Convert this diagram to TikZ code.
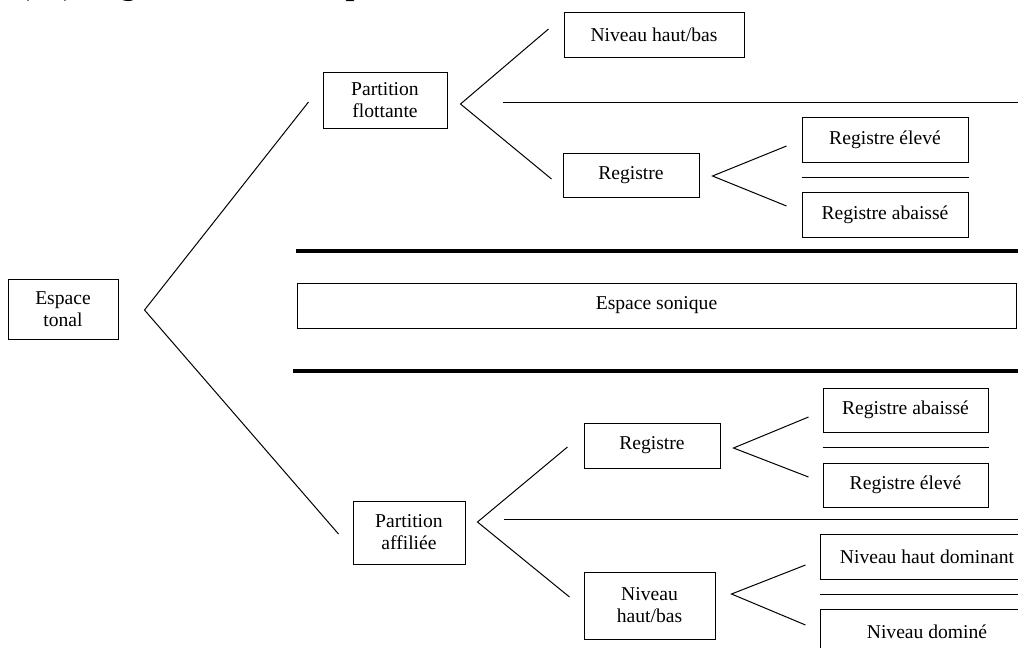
\documentclass[tikz,border=0pt]{standalone}
\usepackage{fontspec}
\setmainfont{Liberation Serif}
\usetikzlibrary{calc}

\begin{document}
\begin{tikzpicture}[
    x=0.75pt, y=-0.75pt,
    font=\fontsize{14.7pt}{16.5pt}\selectfont,
    cell/.style 2 args={rectangle, draw, line width=0.75pt, align=center,
              inner sep=2pt, minimum width=#1*0.75pt, minimum height=#2*0.75pt},
    link/.style={draw, line width=0.75pt},
    thinrule/.style={draw, line width=0.75pt},
    thickrule/.style={draw, line width=3pt},
]
    \useasboundingbox (0,0) rectangle (1018,647);

    % caption, cut off by the page top
    \node[anchor=base west, inner sep=0pt,
          font=\itshape\fontsize{28.5pt}{30pt}\selectfont] (caption) at (20,-7)
        {(…) Figure 2 : Les espaces};

    % root
    \node[cell={110}{60}] (tonal) at (63,309) {Espace\\tonal};

    % upper branch: floating partition
    \node[cell={124}{56}] (flot) at (385,100) {Partition\\flottante};
    \node[cell={180}{45}] (hb1) at (654,34.5) {Niveau haut/bas};
    \node[cell={136}{44}] (reg1) at (631,175) {Registre};
    \node[cell={166}{45}] (elev1) at (885,139.5) {Registre élevé};
    \node[cell={166}{45}] (abai1) at (885,214.5) {Registre abaissé};

    % middle band
    \node[cell={719}{45}] (sonique) at (656.5,305.5) {Espace sonique};

    % lower branch: affiliated partition
    \node[cell={112}{63}] (aff) at (409,532.5) {Partition\\affiliée};
    \node[cell={136}{45}] (reg2) at (652,445.5) {Registre};
    \node[cell={165}{44}] (abai2) at (905.5,410) {Registre abaissé};
    \node[cell={165}{44}] (elev2) at (905.5,485) {Registre élevé};
    \node[cell={131}{67}] (hb2) at (649.5,605.5) {Niveau\\haut/bas};
    \node[cell={214}{45}] (dom) at (927,556.5) {Niveau haut dominant};
    \node[cell={214}{45}] (domine) at (927,631.5) {Niveau dominé};

    % chevrons
    \draw[link] ($(flot.west)+(-14,2)$) -- ($(tonal.east)+(26,1)$)
        -- ($(aff.west)+(-14,1.5)$);
    \draw[link] ($(hb1.west)+(-15,-5.5)$) -- ($(flot.east)+(13,4)$)
        -- ($(reg1.west)+(-11,4)$);
    \draw[link] ($(elev1.west)+(-15,6.5)$) -- ($(reg1.east)+(13,1)$)
        -- ($(abai1.west)+(-15,-8.5)$);
    \draw[link] ($(reg2.west)+(-16,1.5)$) -- ($(aff.east)+(12,-10.5)$)
        -- ($(hb2.west)+(-14,-8.5)$);
    \draw[link] ($(abai2.west)+(-14,7)$) -- ($(reg2.east)+(13,2.5)$)
        -- ($(elev2.west)+(-14,-8)$);
    \draw[link] ($(dom.west)+(-14,8.5)$) -- ($(hb2.east)+(16,-11.5)$)
        -- ($(domine.west)+(-14,-6.5)$);

    % separators between pairs
    \draw[thinrule] ($(elev1.south west)!0.5!(abai1.north west)$)
        -- ($(elev1.south east)!0.5!(abai1.north east)$);
    \draw[thinrule] ($(abai2.south west)!0.5!(elev2.north west)$)
        -- ($(abai2.south east)!0.5!(elev2.north east)$);
    \draw[thinrule] ($(dom.south west)!0.5!(domine.north west)$)
        -- ($(dom.south east)!0.5!(domine.north east)$);

    % long rules
    \draw[thinrule] (503,102) -- (1030,102);
    \draw[thinrule] (504,519) -- (1030,519);
    \draw[thickrule] (296,251) -- (1030,251);
    \draw[thickrule] (293,371) -- (1030,371);
\end{tikzpicture}
\end{document}
